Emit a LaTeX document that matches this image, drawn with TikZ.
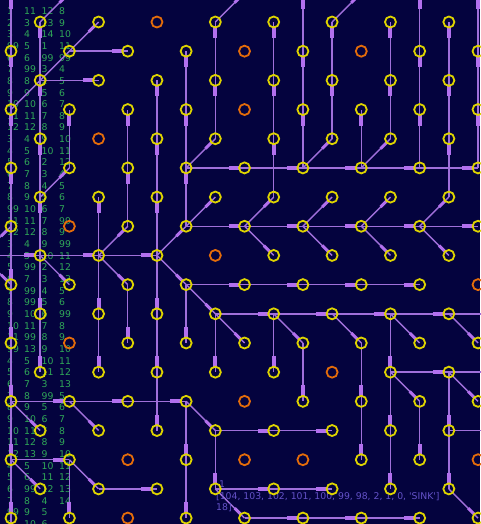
\documentclass[tikz,border=0pt]{standalone}
\usepackage{fontspec}
\setmainfont{DejaVu Sans}
\usetikzlibrary{calc}
\pgfdeclarelayer{txt}
\pgfdeclarelayer{edges}
\pgfsetlayers{txt,edges,main}
\definecolor{bg}{RGB}{4,3,62}
\definecolor{ln}{RGB}{160,112,218}
\definecolor{lnk}{RGB}{178,112,238}
\definecolor{yl}{RGB}{222,212,0}
\definecolor{orn}{RGB}{228,108,10}
\definecolor{grn}{RGB}{48,168,88}
\definecolor{ptx}{RGB}{100,82,200}
\newcommand\setor[2]{\expandafter\def\csname or-#1-#2\endcsname{}}
\setor{5}{0}\setor{8}{1}\setor{12}{1}\setor{8}{3}\setor{3}{4}\setor{2}{7}
\setor{7}{8}\setor{16}{9}\setor{2}{11}\setor{11}{12}\setor{8}{13}\setor{4}{15}
\setor{8}{15}\setor{10}{15}\setor{16}{15}\setor{4}{17}
\newcommand\edg[4]{%
  \draw[wire] (v-#1-#2.center) -- (v-#3-#4.center);
  \draw[head] ($(v-#3-#4.center)!4.5pt!(v-#1-#2.center)$) -- ($(v-#3-#4.center)!16pt!(v-#1-#2.center)$);}
\newcommand\edd[4]{%
  \draw[wire] (v-#1-#2.center) -- (v-#3-#4.center);
  \draw[headd] ($(v-#3-#4.center)!4.5pt!(v-#1-#2.center)$) -- ($(v-#3-#4.center)!14pt!(v-#1-#2.center)$);}
\newcommand\trow[5]{%
  \pgfmathsetmacro\ty{11+11.66*(#1-1)}
  \node[tcell] (t-#1-a) at (7,\ty) {#2};
  \node[tcell] (t-#1-b) at (24,\ty) {#3};
  \node[tcell] (t-#1-c) at (41.5,\ty) {#4};
  \node[tcell] (t-#1-d) at (59,\ty) {#5};}
\begin{document}
\begin{tikzpicture}[x=1pt,y=-1pt,
  vtx/.style={circle,draw=yl,line width=1.8pt,minimum size=11pt,inner sep=0pt},
  ovtx/.style={vtx,draw=orn},
  wire/.style={draw=ln,line width=1.4pt},
  head/.style={draw=lnk,line width=4pt},
  headd/.style={draw=lnk,line width=3pt},
  tcell/.style={anchor=west,inner sep=0pt,text=grn,font=\fontsize{9.3}{9.3}\selectfont,text height=6.8pt,text depth=0pt},
  ptext/.style={anchor=west,inner sep=0pt,text=ptx,font=\fontsize{9.3}{9.3}\selectfont,text height=6.8pt,text depth=0pt}]
\useasboundingbox (0,0) rectangle (480,524);
% nodes
\foreach \i in {-1,...,18}{
 \foreach \j in {-1,...,19}{
  \pgfmathtruncatemacro\pp{mod(\i+\j+40,2)}
  \ifnum\pp=1
   \pgfmathtruncatemacro\vis{(\i>=0)&&(\i<=16)&&(\j>=0)&&(\j<=17)}
   \ifnum\vis=1
     \ifcsname or-\i-\j\endcsname
       \node[ovtx] (v-\i-\j) at ({11+29.19*\i},{22+29.18*\j}) {};
     \else
       \node[vtx] (v-\i-\j) at ({11+29.19*\i},{22+29.18*\j}) {};
     \fi
   \else
     \coordinate (v-\i-\j) at ({11+29.19*\i},{22+29.18*\j});
   \fi
  \fi
 }}
\begin{pgfonlayer}{txt}
\fill[bg] (0,0) rectangle (480,524);
\trow{1}{1}{11}{12}{8}
\trow{2}{2}{3}{13}{9}
\trow{3}{3}{4}{14}{10}
\trow{4}{99}{5}{1}{11}
\trow{5}{6}{6}{99}{99}
\trow{6}{7}{99}{3}{4}
\trow{7}{8}{8}{2}{5}
\trow{8}{9}{9}{5}{6}
\trow{9}{10}{10}{6}{7}
\trow{10}{11}{11}{7}{8}
\trow{11}{12}{12}{8}{9}
\trow{12}{3}{4}{9}{10}
\trow{13}{4}{5}{10}{11}
\trow{14}{5}{6}{2}{12}
\trow{15}{6}{7}{3}{4}
\trow{16}{7}{8}{4}{5}
\trow{17}{8}{9}{5}{6}
\trow{18}{99}{10}{6}{7}
\trow{19}{11}{11}{7}{99}
\trow{20}{12}{12}{8}{9}
\trow{21}{3}{4}{9}{99}
\trow{22}{4}{5}{10}{11}
\trow{23}{5}{99}{2}{12}
\trow{24}{6}{7}{3}{13}
\trow{25}{7}{99}{4}{5}
\trow{26}{8}{99}{5}{6}
\trow{27}{9}{10}{6}{99}
\trow{28}{10}{11}{7}{8}
\trow{29}{11}{99}{8}{9}
\trow{30}{99}{13}{9}{10}
\trow{31}{4}{5}{10}{11}
\trow{32}{5}{6}{11}{12}
\trow{33}{6}{7}{3}{13}
\trow{34}{7}{8}{99}{5}
\trow{35}{8}{9}{5}{6}
\trow{36}{9}{10}{6}{7}
\trow{37}{10}{11}{7}{8}
\trow{38}{11}{12}{8}{9}
\trow{39}{12}{13}{9}{10}
\trow{40}{4}{5}{10}{11}
\trow{41}{5}{6}{11}{12}
\trow{42}{6}{99}{12}{13}
\trow{43}{7}{8}{4}{14}
\trow{44}{99}{9}{5}{}
\trow{45}{9}{10}{6}{}
\end{pgfonlayer}
\begin{pgfonlayer}{edges}
% verticals
\edg{0}{1}{0}{-1}\edg{0}{3}{0}{1}\edg{0}{5}{0}{3}\edg{0}{7}{0}{5}\edg{0}{7}{0}{9}
\edg{0}{9}{0}{11}\edg{0}{11}{0}{13}\edg{0}{13}{0}{15}\edg{0}{15}{0}{17}\edg{0}{17}{0}{19}
\edg{1}{2}{1}{0}\edg{1}{4}{1}{2}\edg{1}{6}{1}{4}\edg{1}{8}{1}{6}\edg{1}{8}{1}{10}\edg{1}{10}{1}{12}
\edg{2}{5}{2}{3}\edg{2}{15}{2}{17}
\edg{3}{8}{3}{6}\edg{3}{8}{3}{10}\edg{3}{10}{3}{12}
\edg{4}{5}{4}{3}\edg{4}{7}{4}{5}\edg{4}{9}{4}{11}
\edg{5}{4}{5}{2}\edg{5}{6}{5}{4}\edg{5}{8}{5}{6}\edg{5}{8}{5}{10}\edg{5}{10}{5}{12}\edg{5}{12}{5}{14}
\edg{6}{3}{6}{1}\edg{6}{5}{6}{3}\edg{6}{7}{6}{5}\edg{6}{9}{6}{11}\edg{6}{13}{6}{15}\edg{6}{15}{6}{17}
\edg{7}{2}{7}{0}\edg{7}{4}{7}{2}\edg{7}{10}{7}{12}\edg{7}{14}{7}{16}
\edg{9}{2}{9}{0}\edg{9}{4}{9}{2}\edg{9}{6}{9}{4}\edg{9}{10}{9}{12}
\edg{10}{1}{10}{-1}\edg{10}{3}{10}{1}\edg{10}{5}{10}{3}\edg{10}{11}{10}{13}
\edg{11}{2}{11}{0}\edg{11}{4}{11}{2}
\edg{12}{5}{12}{3}\edg{12}{11}{12}{13}\edg{12}{13}{12}{15}
\edg{13}{2}{13}{0}\edg{13}{4}{13}{2}\edg{13}{10}{13}{12}\edg{13}{12}{13}{14}\edg{13}{14}{13}{16}
\edg{14}{1}{14}{-1}\edg{14}{3}{14}{1}\edg{14}{5}{14}{3}\edg{14}{13}{14}{15}
\edg{15}{2}{15}{0}\edg{15}{4}{15}{2}\edg{15}{6}{15}{4}\edg{15}{12}{15}{14}\edg{15}{14}{15}{16}
\edg{16}{1}{16}{-1}\edg{16}{3}{16}{1}\edg{16}{5}{16}{3}
% horizontals
\edg{2}{1}{4}{1}
\edg{1}{2}{3}{2}
\edg{6}{5}{8}{5}\edg{8}{5}{10}{5}\edg{10}{5}{12}{5}\edg{12}{5}{14}{5}\edg{14}{5}{16}{5}
\edg{6}{7}{8}{7}\edg{8}{7}{10}{7}\edg{10}{7}{12}{7}\edg{12}{7}{14}{7}\edg{14}{7}{16}{7}
\edg{-1}{8}{1}{8}\edg{1}{8}{3}{8}\edg{3}{8}{5}{8}
\edg{6}{9}{8}{9}\edg{8}{9}{10}{9}\edg{10}{9}{12}{9}\edg{12}{9}{14}{9}
\edg{7}{10}{9}{10}\edg{9}{10}{11}{10}\edg{11}{10}{13}{10}\edg{13}{10}{15}{10}\edg{15}{10}{17}{10}
\edg{13}{12}{15}{12}\edg{15}{12}{17}{12}
\edg{0}{13}{2}{13}\edg{2}{13}{4}{13}\edg{4}{13}{6}{13}
\edg{7}{14}{9}{14}\edg{9}{14}{11}{14}\edg{15}{14}{17}{14}
\edg{0}{15}{2}{15}
\edg{3}{16}{5}{16}\edg{7}{16}{9}{16}\edg{9}{16}{11}{16}
\edg{8}{17}{10}{17}\edg{10}{17}{12}{17}\edg{12}{17}{14}{17}
% diagonals
\edd{0}{3}{3}{0}
\edd{1}{0}{2}{-1}\edd{7}{0}{8}{-1}\edd{11}{0}{12}{-1}
\edd{1}{6}{2}{5}\edd{6}{5}{7}{4}\edd{10}{5}{11}{4}\edd{12}{5}{13}{4}
\edd{6}{7}{7}{6}\edd{8}{7}{9}{6}\edd{10}{7}{11}{6}\edd{12}{7}{13}{6}\edd{14}{7}{15}{6}
\edd{8}{7}{9}{8}\edd{10}{7}{11}{8}\edd{12}{7}{13}{8}\edd{14}{7}{15}{8}
\edd{3}{8}{4}{7}\edd{-1}{8}{0}{7}\edd{-1}{8}{0}{9}\edd{5}{8}{6}{7}\edd{5}{8}{6}{9}
\edd{1}{8}{2}{9}\edd{3}{8}{4}{9}
\edd{6}{9}{7}{10}\edd{7}{10}{8}{11}\edd{9}{10}{10}{11}\edd{11}{10}{12}{11}\edd{13}{10}{14}{11}\edd{15}{10}{16}{11}
\edd{13}{12}{14}{13}\edd{15}{12}{16}{13}
\edd{0}{13}{1}{14}\edd{2}{13}{3}{14}\edd{6}{13}{7}{14}
\edd{0}{15}{1}{16}\edd{2}{15}{3}{16}
\edd{7}{16}{8}{17}\edd{15}{16}{16}{17}
% label
\node[ptext] (lab1) at (219,484) {1};
\node[ptext] (lab2) at (216,496) {[104, 103, 102, 101, 100, 99, 98, 2, 1, 0, \textquotesingle SINK\textquotesingle]};
\node[ptext] (lab3) at (216,507.5) {18]};
\end{pgfonlayer}
\end{tikzpicture}
\end{document}
